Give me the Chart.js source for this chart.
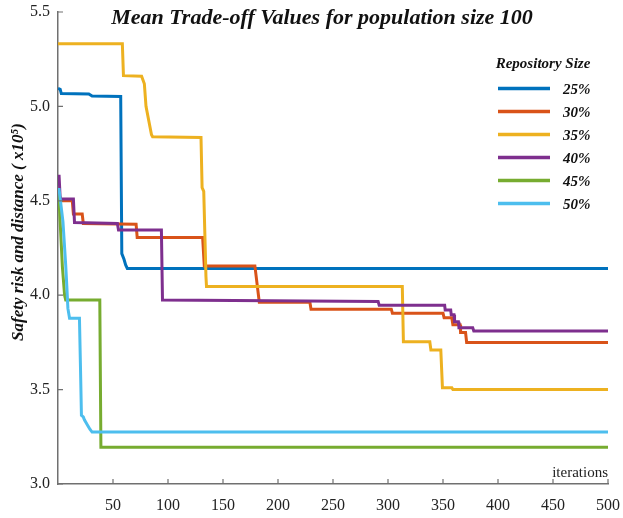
<!DOCTYPE html>
<html>
<head>
<meta charset="utf-8">
<script src="https://cdn.jsdelivr.net/npm/chart.js@4.4.1/dist/chart.umd.min.js"></script>
<style>
  html, body { margin: 0; padding: 0; background: #fff; }
  #wrap { width: 623px; height: 518px; position: relative; }
</style>
</head>
<body>
<div id="wrap"><canvas id="chart"></canvas></div>
<script>
// values (iteration breakpoints and the value at each)
const seriesLabels = ['25%', '30%', '35%', '40%', '45%', '50%']
const seriesColors = ['#0072BD', '#D95319', '#EDB120', '#7E2F8E', '#77AC30', '#4DBEEE']

const it25 = [0, 2, 3, 28, 31, 57, 58, 60, 61.5, 63, 500]
const v25 = [5.095, 5.09, 5.068, 5.066, 5.055, 5.053, 4.22, 4.19, 4.16, 4.142, 4.142]

const it30 = [0, 3, 13, 14, 22, 23, 71, 72, 131.5, 133, 179, 183, 229, 230, 303, 304, 350, 351, 358, 359, 365.5, 366, 370.5, 371.5, 500]
const v30 = [4.55, 4.5, 4.5, 4.43, 4.43, 4.38, 4.376, 4.305, 4.305, 4.155, 4.155, 3.962, 3.962, 3.926, 3.926, 3.905, 3.905, 3.881, 3.881, 3.843, 3.843, 3.803, 3.803, 3.75, 3.75]

const it35 = [0, 58.5, 59.5, 76, 78.5, 80, 85, 86, 130, 131, 132.5, 134.5, 135, 313, 314, 338, 339, 348, 349.5, 358, 359, 500]
const v35 = [5.332, 5.332, 5.163, 5.16, 5.12, 5.0, 4.85, 4.839, 4.835, 4.57, 4.55, 4.1, 4.046, 4.046, 3.753, 3.753, 3.71, 3.71, 3.51, 3.51, 3.5, 3.5]

const it40 = [0, 1, 2, 14, 15, 54, 55, 94, 95, 291, 292, 351.5, 352, 357, 357.5, 360, 360.5, 364, 364.5, 377, 378, 500]
const v40 = [4.63, 4.63, 4.51, 4.51, 4.385, 4.38, 4.346, 4.346, 3.974, 3.967, 3.947, 3.947, 3.922, 3.922, 3.896, 3.896, 3.86, 3.86, 3.828, 3.828, 3.81, 3.81]

const it45 = [0, 1, 4, 6, 7, 38, 39, 500]
const v45 = [4.55, 4.5, 4.15, 4.0, 3.975, 3.975, 3.195, 3.195]

const it50 = [0, 1, 4.5, 7, 8, 9, 10.5, 19.5, 20.5, 21.3, 23, 24, 27, 29, 31, 500]
const v50 = [4.56, 4.56, 4.39, 4.16, 4.05, 3.93, 3.878, 3.878, 3.6, 3.364, 3.355, 3.34, 3.31, 3.29, 3.275, 3.275]

const xTicksStep = 50
const yTicksStep = 0.5

const iterSets = [it25, it30, it35, it40, it45, it50]
const valSets = [v25, v30, v35, v40, v45, v50]

const serif = "'Liberation Serif', 'Times New Roman', serif"
const axisColor = '#707070'

// title, legend, y title, "iterations" and inward tick marks
const overlay = {
    id: 'overlay',
    afterDraw(chart) {
        const ctx = chart.ctx
        const area = chart.chartArea
        const xs = chart.scales.x, ys = chart.scales.y
        ctx.save()

        // inward ticks
        ctx.strokeStyle = axisColor
        ctx.lineWidth = 1.2
        ctx.beginPath()
        xs.ticks.forEach(t => {
            if (t.value === 0) return
            let px = xs.getPixelForValue(t.value)
            ctx.moveTo(px, area.bottom)
            ctx.lineTo(px, area.bottom - 5)
        })
        ys.ticks.forEach(t => {
            let py = ys.getPixelForValue(t.value)
            ctx.moveTo(area.left, py)
            ctx.lineTo(area.left + 5, py)
        })
        ctx.stroke()

        ctx.fillStyle = '#111'
        ctx.font = 'bold italic 22px ' + serif
        ctx.textAlign = 'center'
        ctx.textBaseline = 'alphabetic'
        ctx.fillText('Mean Trade-off Values for population size 100', 322, 24)

        // legend
        ctx.font = 'bold italic 15px ' + serif
        ctx.textAlign = 'center'
        ctx.fillText('Repository Size', 543, 68)
        chart.data.datasets.forEach((ds, i) => {
            let y = 88.5 + i * 23
            ctx.strokeStyle = ds.borderColor
            ctx.lineWidth = 3.5
            ctx.beginPath()
            ctx.moveTo(498, y)
            ctx.lineTo(550, y)
            ctx.stroke()
            ctx.textAlign = 'left'
            ctx.fillText(ds.label, 563, y + 5)
        })

        ctx.font = '15px ' + serif
        ctx.fillStyle = '#222'
        ctx.textAlign = 'right'
        ctx.fillText('iterations', area.right, area.bottom - 7)

        ctx.translate(19, 232)
        ctx.rotate(-Math.PI / 2)
        ctx.font = 'bold italic 17px ' + serif
        ctx.fillStyle = '#111'
        ctx.textAlign = 'center'
        ctx.textBaseline = 'middle'
        ctx.fillText('Safety risk and distance ( x10\u2075)', 0, 0)
        ctx.restore()
    }
}

const datasets = seriesLabels.map((label, i) => ({
    label,
    data: iterSets[i].map((x, j) => ({ x, y: valSets[i][j] })),
    borderColor: seriesColors[i],
    backgroundColor: seriesColors[i],
    borderWidth: 3,
    pointRadius: 0,
    tension: 0,
    fill: false,
    order: seriesLabels.length - i
}))

new Chart(document.getElementById('chart'), {
    type: 'line',
    data: { datasets },
    options: {
        responsive: true,
        maintainAspectRatio: false,
        animation: false,
        layout: { padding: { top: 12, right: 15, left: 0, bottom: 0 } },
        plugins: {
            legend: { display: false },
            title: { display: false },
            tooltip: { enabled: false }
        },
        scales: {
            x: {
                type: 'linear',
                min: 0,
                max: 500,
                grid: { display: false, drawTicks: false },
                border: { display: true, color: axisColor, width: 1.5 },
                ticks: {
                    stepSize: xTicksStep,
                    padding: 12,
                    color: '#222',
                    font: { family: serif, size: 16 },
                    maxRotation: 0,
                    callback: v => v === 0 ? '' : v
                },
                afterFit(scale) {
                    scale.height = 34
                    scale.paddingLeft = 0
                    scale.paddingRight = 0
                }
            },
            y: {
                min: 3.0,
                max: 5.5,
                grid: { display: false, drawTicks: false },
                border: { display: true, color: axisColor, width: 1.5 },
                ticks: {
                    stepSize: yTicksStep,
                    padding: 8,
                    color: '#222',
                    font: { family: serif, size: 16 },
                    callback: v => v.toFixed(1)
                },
                afterFit(scale) {
                    scale.width = 58
                    scale.paddingTop = 0
                    scale.paddingBottom = 0
                }
            }
        }
    },
    plugins: [overlay]
})
</script>
</body>
</html>
